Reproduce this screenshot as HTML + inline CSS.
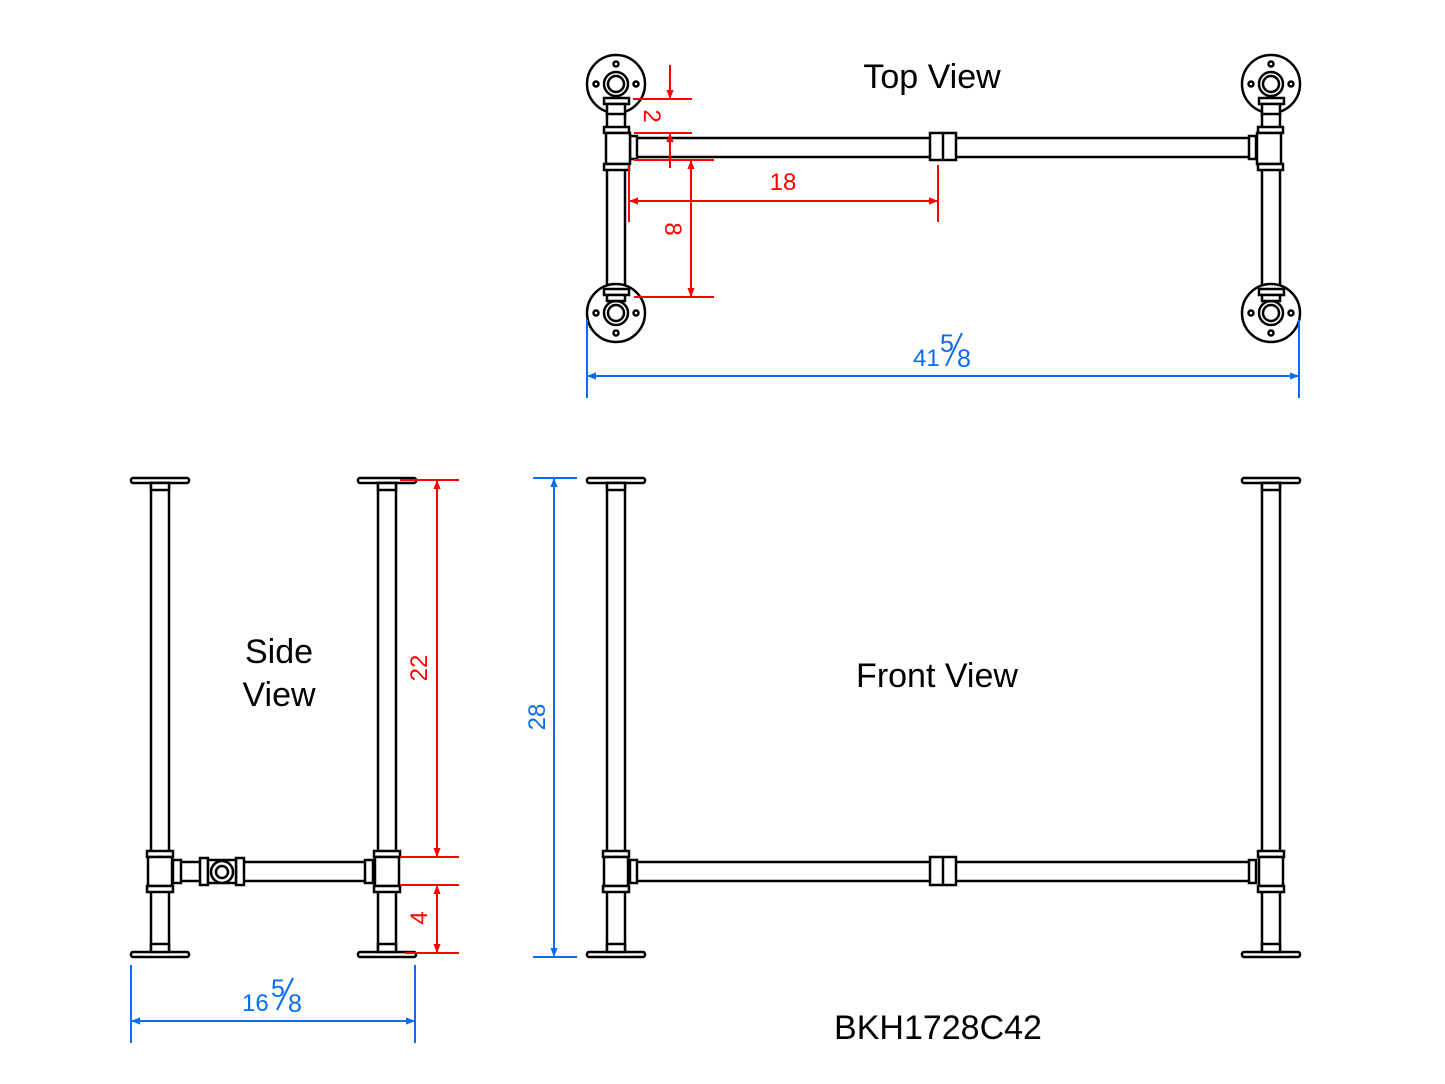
<!DOCTYPE html>
<html><head><meta charset="utf-8"><style>
html,body{margin:0;padding:0;background:#fff;}
svg{display:block;}
text{font-family:"Liberation Sans",sans-serif;}
</style></head><body>
<svg width="1445" height="1084" viewBox="0 0 1445 1084" xmlns="http://www.w3.org/2000/svg">
<defs>
<marker id="ar" viewBox="0 0 10 10" refX="10" refY="5" markerWidth="18" markerHeight="9" markerUnits="userSpaceOnUse" orient="auto-start-reverse"><path d="M0,1 L10,5 L0,9 z" fill="red"/></marker>
<marker id="ab" viewBox="0 0 10 10" refX="10" refY="5" markerWidth="18" markerHeight="9" markerUnits="userSpaceOnUse" orient="auto-start-reverse"><path d="M0,1 L10,5 L0,9 z" fill="#0a6cf0"/></marker>
<g id="leg" fill="#fff" stroke="#000" stroke-width="2.5">
  <rect x="-29" y="478" width="58" height="5" rx="2"/>
  <rect x="-9" y="483" width="18" height="469"/>
  <rect x="-9" y="483" width="18" height="7"/>
  <rect x="-29" y="952" width="58" height="5" rx="2"/>
  <rect x="-9" y="944" width="18" height="8"/>
  <rect x="-13" y="851" width="26" height="6"/>
  <rect x="-12" y="857" width="24" height="29"/>
  <rect x="-13" y="886" width="26" height="6"/>
</g>
<g id="flange" fill="#fff" stroke="#000" stroke-width="2.5">
  <circle r="29"/>
  <circle r="12"/>
  <circle r="8"/>
  <circle cx="-20" cy="0" r="2.5"/><circle cx="20" cy="0" r="2.5"/>
  <circle cx="0" cy="-20" r="2.5"/><circle cx="0" cy="20" r="2.5"/>
</g>
</defs>

<g fill="none" stroke="#000" stroke-width="2.5">
<rect x="607" y="96" width="18" height="210" fill="#fff"/>
<rect x="1262" y="96" width="18" height="210" fill="#fff"/>
<rect x="632" y="138" width="621" height="19" fill="#fff"/>
<rect x="630" y="136" width="7" height="23" fill="#fff"/>
<rect x="1249" y="136" width="7" height="23" fill="#fff"/>
<rect x="930" y="133" width="26" height="27" fill="#fff"/>
<line x1="943" y1="133" x2="943" y2="160"/>
<rect x="604" y="127" width="25" height="6" fill="#fff"/>
<rect x="606" y="133" width="24" height="31" fill="#fff"/>
<rect x="604" y="164" width="25" height="6" fill="#fff"/>
<rect x="1258" y="127" width="25" height="6" fill="#fff"/>
<rect x="1257" y="133" width="24" height="31" fill="#fff"/>
<rect x="1258" y="164" width="25" height="6" fill="#fff"/>
</g>
<use href="#flange" x="616" y="84"/>
<use href="#flange" x="616" y="313"/>
<use href="#flange" x="1271" y="84"/>
<use href="#flange" x="1271" y="313"/>
<g fill="#fff" stroke="#000" stroke-width="2.5">
<rect x="604" y="98" width="25" height="6"/><rect x="607" y="104" width="18" height="10"/>
<rect x="604" y="289" width="25" height="6"/><rect x="607" y="295" width="18" height="6"/>
<rect x="1259" y="98" width="25" height="6"/><rect x="1262" y="104" width="18" height="10"/>
<rect x="1259" y="289" width="25" height="6"/><rect x="1262" y="295" width="18" height="6"/>
</g>

<g stroke="red" stroke-width="2" fill="none">
<line x1="633" y1="99" x2="692" y2="99"/>
<line x1="634" y1="133" x2="692" y2="133"/>
<line x1="634" y1="160" x2="714" y2="160"/>
<line x1="634" y1="297" x2="714" y2="297"/>
<line x1="670" y1="65" x2="670" y2="99" marker-end="url(#ar)"/>
<line x1="670" y1="168" x2="670" y2="133" marker-end="url(#ar)"/>
<line x1="691" y1="160" x2="691" y2="297" marker-start="url(#ar)" marker-end="url(#ar)"/>
<line x1="629" y1="165" x2="629" y2="222"/>
<line x1="938" y1="165" x2="938" y2="222"/>
<line x1="629" y1="201" x2="938" y2="201" marker-start="url(#ar)" marker-end="url(#ar)"/>
</g>
<g fill="red" font-size="24">
<text x="783" y="190" text-anchor="middle">18</text>
<text transform="translate(644,116) rotate(90)" text-anchor="middle">2</text>
<text transform="translate(665,229) rotate(90)" text-anchor="middle">8</text>
</g>

<g stroke="#0a6cf0" stroke-width="2" fill="none">
<line x1="587" y1="320" x2="587" y2="398"/>
<line x1="1299" y1="320" x2="1299" y2="398"/>
<line x1="587" y1="376" x2="1299" y2="376" marker-start="url(#ab)" marker-end="url(#ab)"/>
<line x1="946" y1="366" x2="962" y2="333"/>
</g>
<g fill="#0a6cf0">
<text x="913" y="366" font-size="24">41</text>
<text x="940" y="352" font-size="25">5</text>
<text x="957" y="367" font-size="25">8</text>
</g>
<text x="932" y="88" font-size="34" text-anchor="middle">Top View</text>

<use href="#leg" x="160"/>
<use href="#leg" x="387"/>
<g fill="#fff" stroke="#000" stroke-width="2.5">
<rect x="176" y="862" width="194" height="19"/>
<rect x="173" y="860" width="8" height="23"/>
<rect x="365" y="860" width="8" height="23"/>
<rect x="200" y="858" width="8" height="27"/>
<rect x="236" y="858" width="8" height="27"/>
<rect x="208" y="860" width="28" height="23"/>
<circle cx="222" cy="872" r="11"/>
<circle cx="222" cy="872" r="6"/>
</g>
<g stroke="red" stroke-width="2" fill="none">
<line x1="400" y1="480" x2="459" y2="480"/>
<line x1="400" y1="857" x2="459" y2="857"/>
<line x1="400" y1="885" x2="459" y2="885"/>
<line x1="405" y1="953" x2="459" y2="953"/>
<line x1="437" y1="480" x2="437" y2="857" marker-start="url(#ar)" marker-end="url(#ar)"/>
<line x1="437" y1="885" x2="437" y2="953" marker-start="url(#ar)" marker-end="url(#ar)"/>
</g>
<g fill="red" font-size="24">
<text transform="translate(427,668) rotate(-90)" text-anchor="middle">22</text>
<text transform="translate(427,918) rotate(-90)" text-anchor="middle">4</text>
</g>
<g stroke="#0a6cf0" stroke-width="2" fill="none">
<line x1="131" y1="965" x2="131" y2="1043"/>
<line x1="415" y1="965" x2="415" y2="1043"/>
<line x1="131" y1="1021" x2="415" y2="1021" marker-start="url(#ab)" marker-end="url(#ab)"/>
<line x1="277" y1="1010" x2="293" y2="978"/>
</g>
<g fill="#0a6cf0">
<text x="242" y="1011" font-size="24">16</text>
<text x="271" y="997" font-size="25">5</text>
<text x="288" y="1012" font-size="25">8</text>
</g>
<text x="279" y="663" font-size="34" text-anchor="middle">Side</text>
<text x="279" y="706" font-size="34" text-anchor="middle">View</text>

<use href="#leg" x="616"/>
<use href="#leg" x="1271"/>
<g fill="#fff" stroke="#000" stroke-width="2.5">
<rect x="632" y="862" width="621" height="19"/>
<rect x="630" y="860" width="7" height="23"/>
<rect x="1249" y="860" width="7" height="23"/>
<rect x="930" y="857" width="26" height="28"/>
<line x1="943" y1="857" x2="943" y2="885"/>
</g>
<g stroke="#0a6cf0" stroke-width="2" fill="none">
<line x1="533" y1="478" x2="577" y2="478"/>
<line x1="533" y1="957" x2="577" y2="957"/>
<line x1="554" y1="478" x2="554" y2="957" marker-start="url(#ab)" marker-end="url(#ab)"/>
</g>
<text transform="translate(545,717) rotate(-90)" text-anchor="middle" fill="#0a6cf0" font-size="24">28</text>
<text x="937" y="687" font-size="34" text-anchor="middle">Front View</text>
<text x="938" y="1039" font-size="34" text-anchor="middle">BKH1728C42</text>
</svg>
</body></html>
